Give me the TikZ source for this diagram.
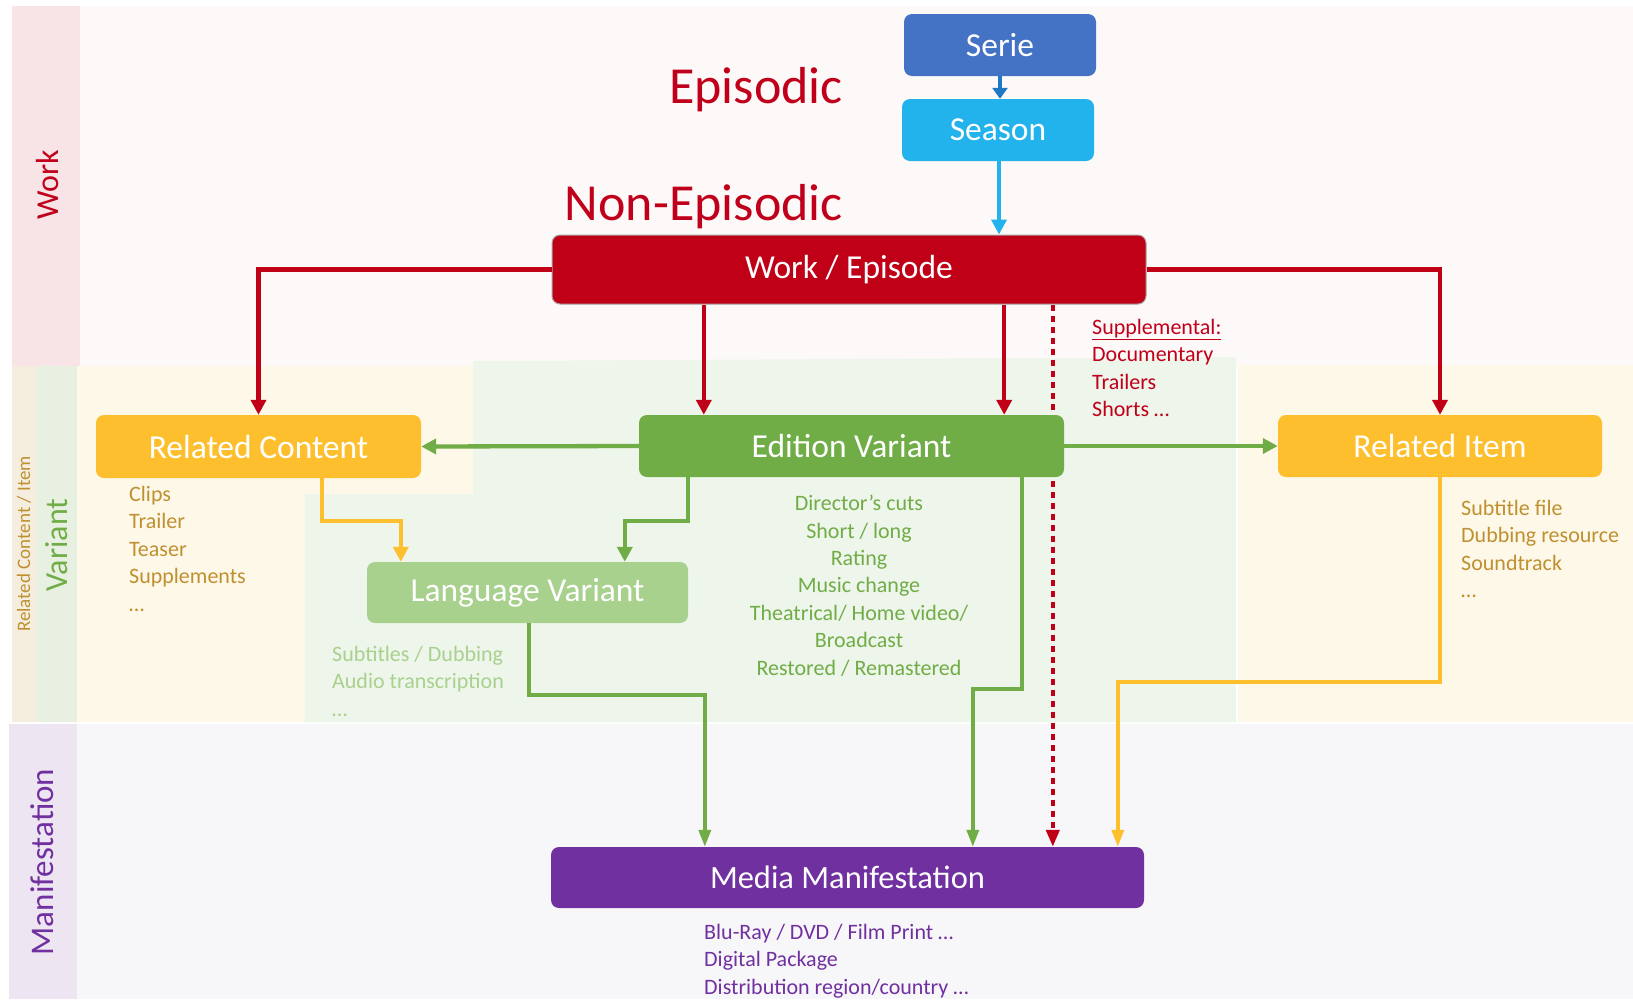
\documentclass[tikz,border=0pt]{standalone}
\usepackage{fontspec}
\setmainfont{Carlito}
\usetikzlibrary{arrows.meta,calc}
\pgfdeclarelayer{mid}
\pgfsetlayers{mid,main}
\definecolor{cRed}{HTML}{C00016}
\definecolor{cRedT}{HTML}{C0001A}
\definecolor{cBlue}{HTML}{4472C4}
\definecolor{cBlueD}{HTML}{1F77C6}
\definecolor{cSky}{HTML}{22B2EC}
\definecolor{cYel}{HTML}{FDBF2D}
\definecolor{cGold}{HTML}{BF9030}
\definecolor{cGreen}{HTML}{70AD47}
\definecolor{cLGreen}{HTML}{A9D18E}
\definecolor{cPurple}{HTML}{7030A0}
\definecolor{bgWork}{HTML}{FDF9F9}
\definecolor{stWork}{HTML}{F8E4E6}
\definecolor{stRel}{HTML}{F5EEDF}
\definecolor{stVar}{HTML}{E7F0E1}
\definecolor{bgCream}{HTML}{FEF8E8}
\definecolor{bgGreen}{HTML}{EEF5EA}
\definecolor{stMan}{HTML}{EDE5F2}
\definecolor{bgMan}{HTML}{F7F7FA}
\tikzset{
  box/.style={rounded corners=8pt, inner sep=0pt, text=white, font=\fontsize{33.5}{40}\selectfont},
  listtext/.style={inner sep=0pt, align=left, font=\fontsize{22}{27.4}\selectfont},
  band/.style={inner sep=0pt, rotate=90, font=\fontsize{32}{38}\selectfont},
  conn/.style={line width=4.3pt, -{Triangle[length=15pt,width=15pt]}},
  thinconn/.style={line width=3.6pt, -{Triangle[length=17pt,width=12pt]}},
}
\begin{document}
\begin{tikzpicture}[x=1pt,y=-1pt]
\useasboundingbox (0,0) rectangle (1633,999);
\begin{pgfonlayer}{mid}
% backgrounds
\fill[bgWork] (80,6) rectangle (1633,367);
\fill[stWork] (12,6) rectangle (80,367);
\fill[stRel] (12,366) rectangle (36,722);
\fill[stVar] (36,366) rectangle (77,722);
\fill[bgCream] (77,366) rectangle (473,494);
\fill[bgCream] (77,494) rectangle (305,722);
\fill[bgGreen] (473,361) -- (1236,357) -- (1236,722) -- (305,722) -- (305,494) -- (473,494) -- cycle;
\fill[bgCream] (1238,365) rectangle (1633,722);
\fill[stMan] (9,724) rectangle (77,999);
\fill[bgMan] (77,724) rectangle (1633,999);
\end{pgfonlayer}
% band labels
\node[band, text=cRedT] (lblwork) at (47,185) {Work};
\node[band, text=cGold, font=\fontsize{19}{23}\selectfont] (lblrel) at (24,544) {Related Content / Item};
\node[band, text=cGreen] (lblvar) at (57,545) {Variant};
\node[band, text=cPurple, font=\fontsize{33}{38}\selectfont] (lblman) at (42,862) {Manifestation};
% titles
\node[inner sep=0pt, anchor=east, text=cRedT, font=\fontsize{52}{60}\selectfont] (episodic) at (843,90) {Episodic};
\node[inner sep=0pt, anchor=east, text=cRedT, font=\fontsize{52}{60}\selectfont] (nonepisodic) at (843,207) {Non-Episodic};
% boxes
\node[box, fill=cBlue, minimum width=192pt, minimum height=62pt] (serie) at (1000,45) {Serie};
\node[box, fill=cSky, minimum width=192pt, minimum height=62pt] (season) at (998,130) {Season};
\node[box, fill=cRed, draw=gray!70, line width=1pt, minimum width=594pt, minimum height=69pt] (we) at (849,269.5) {Work / Episode};
\node[box, fill=cYel, minimum width=325pt, minimum height=63pt] (rc) at (258.5,446.5) {Related Content};
\node[box, fill=cGreen, minimum width=425pt, minimum height=62pt] (ev) at (851.5,446) {Edition Variant};
\node[box, fill=cYel, minimum width=324pt, minimum height=62pt] (ri) at (1440,446) {Related Item};
\node[box, fill=cLGreen, minimum width=321pt, minimum height=61pt] (lv) at (527.5,592.5) {Language Variant};
\node[box, fill=cPurple, minimum width=593pt, minimum height=61pt, font=\fontsize{32.5}{38}\selectfont] (mm) at (847.5,877.5) {Media Manifestation};
% lists
\node[listtext, anchor=north west, text=cGold] (rclist) at (129,486) {Clips\\Trailer\\Teaser\\Supplements\\…};
\node[listtext, anchor=north west, text=cLGreen] (lvlist) at (332,646) {Subtitles / Dubbing\\Audio transcription\\…};
\node[listtext, anchor=north, align=center, text=cGreen] (evlist) at (859,495) {Director’s cuts\\Short / long\\Rating\\Music change\\Theatrical/ Home video/\\Broadcast\\Restored / Remastered};
\node[listtext, anchor=north west, text=cRedT] (supplist) at (1092,319) {\underline{Supplemental:}\\Documentary\\Trailers\\Shorts …};
\node[listtext, anchor=north west, text=cGold] (rilist) at (1461,500) {Subtitle file\\Dubbing resource\\Soundtrack\\…};
\node[listtext, anchor=north west, text=cPurple] (mmlist) at (704,924) {Blu-Ray / DVD / Film Print …\\Digital Package\\Distribution region/country …};
% bend coordinates
\coordinate (a1) at ($(ev.north west)+(65,0)$);
\coordinate (a2) at ($(ev.north east)+(-60,0)$);
\coordinate (dt) at ($(mm.north west)+(502,0)$);
\coordinate (el) at ($(lv.north west)+(258,0)$);
\coordinate (rl) at ($(lv.north west)+(34,0)$);
\coordinate (lm) at ($(mm.north west)+(154,0)$);
\coordinate (em) at ($(mm.north west)+(422,0)$);
\coordinate (im) at ($(mm.north west)+(567,0)$);
\coordinate (evs1) at ($(ev.south west)+(49,0)$);
\coordinate (rcs) at ($(rc.south west)+(226,0)$);
\coordinate (lvs) at ($(lv.south west)+(162,0)$);
\coordinate (evs2) at ($(ev.south east)+(-42,0)$);
% connectors
\draw[conn, cBlueD, line width=4.5pt, -{Triangle[length=11pt,width=15pt]}] (serie.south) -- (season.north -| serie.south);
\draw[conn, cSky, line width=3.8pt] (season.south -| 999,0) -- (we.north -| 999,0);
\draw[conn, cRed] (we.west) -| (rc.north);
\draw[conn, cRed] (we.east) -| (ri.north);
\draw[conn, cRed] (a1 |- we.south) -- (a1);
\draw[conn, cRed] (a2 |- we.south) -- (a2);
\begin{pgfonlayer}{mid}
\draw[cRed, line width=4pt, dash pattern=on 6pt off 5pt, -{Triangle[length=17pt,width=13pt]}] (dt |- we.south) -- (dt);
\end{pgfonlayer}
\draw[conn, cGreen] (ev.west) -- (rc.east);
\draw[conn, cGreen] (ev.east) -- (ri.west);
\draw[conn, cGreen] (evs1) -- ++(0,44) -| (el);
\draw[conn, cYel] (rcs) -- ++(0,43) -| (rl);
\draw[thinconn, cGreen] (lvs) -- (lvs |- 0,695) -| (lm);
\draw[thinconn, cGreen] (evs2) -- (evs2 |- 0,689) -| (em);
\draw[thinconn, cYel] (ri.south) -- (ri.south |- 0,682) -| (im);
\end{tikzpicture}
\end{document}
